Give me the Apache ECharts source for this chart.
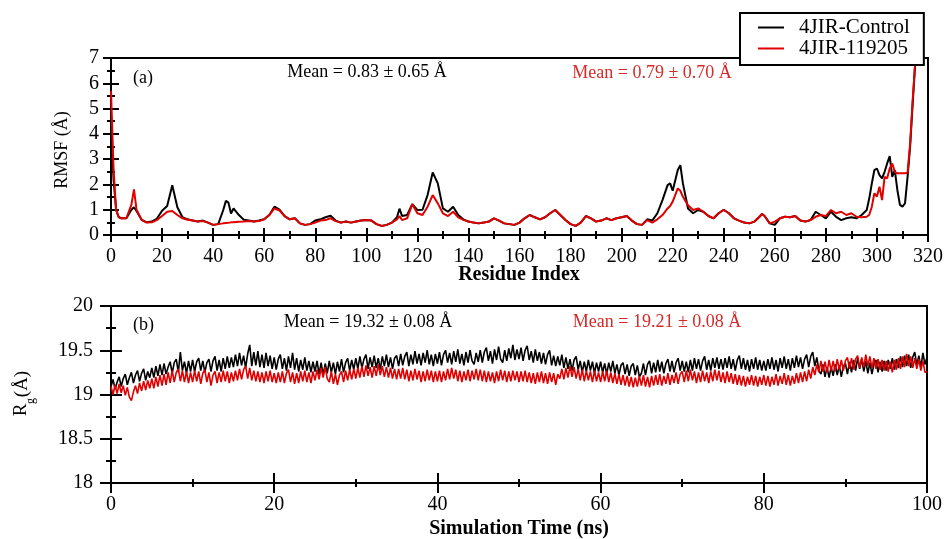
<!DOCTYPE html>
<html>
<head>
<meta charset="utf-8">
<script src="https://cdn.jsdelivr.net/npm/echarts@6/dist/echarts.min.js"></script>
<style>
  html, body { margin: 0; padding: 0; background: #fff; }
  #chart { width: 948px; height: 539px; }
</style>
</head>
<body>
<div id="chart"></div>
<script>
// (a) RMSF per residue
const residues = [0, 1, 2, 3, 4, 6, 8, 9, 10, 12, 14, 16, 18, 20, 22, 24, 26, 28, 30, 32, 34, 36, 38, 40, 42, 44, 45, 46, 47, 48,
  50, 52, 54, 56, 58, 60, 62, 64, 66, 68, 70, 72, 74, 76, 78, 80, 82, 84, 86, 88, 90, 92, 94, 96, 98,
  100, 102, 104, 106, 108, 110, 112, 113, 114, 116, 118, 120, 122, 124, 126, 128, 130, 132, 134, 136, 138,
  140, 142, 144, 146, 148, 150, 152, 154, 156, 158, 160, 162, 164, 166, 168, 170, 172, 174, 176, 178,
  180, 182, 184, 186, 188, 190, 192, 194, 196, 198, 200, 202, 204, 206, 208, 210, 212, 214, 216, 218, 219,
  220, 222, 223, 224, 226, 228, 230, 232, 234, 236, 238, 240, 242, 244, 246, 248, 250, 252, 254, 255, 256, 258,
  260, 262, 264, 266, 268, 270, 272, 274, 276, 278, 280, 282, 284, 286, 288, 290, 292, 294, 296, 297, 298, 299,
  300, 301, 302, 303, 304, 305, 306, 307, 308, 309, 310, 311, 312, 313, 314, 315]

const rmsfControl = [4.5, 2.2, 1.0, 0.72, 0.66, 0.66, 1.0, 1.1, 0.95, 0.6, 0.5, 0.53, 0.65, 0.96, 1.15, 1.97, 1.1, 0.7, 0.62, 0.57, 0.53, 0.57, 0.49, 0.4, 0.43, 1.0, 1.35, 1.28, 0.85, 1.05,
  0.8, 0.6, 0.57, 0.53, 0.57, 0.62, 0.79, 1.12, 1.0, 0.75, 0.62, 0.66, 0.46, 0.4, 0.43, 0.57, 0.62, 0.7, 0.76, 0.57, 0.49, 0.53, 0.49, 0.53, 0.57,
  0.59, 0.57, 0.43, 0.36, 0.4, 0.49, 0.7, 1.04, 0.75, 0.79, 1.22, 0.99, 1.0, 1.58, 2.47, 2.04, 1.05, 0.92, 1.12, 0.79, 0.62,
  0.53, 0.49, 0.46, 0.49, 0.53, 0.66, 0.57, 0.46, 0.43, 0.4, 0.49, 0.66, 0.79, 0.7, 0.62, 0.7, 0.86, 0.99, 0.79, 0.59,
  0.43, 0.36, 0.49, 0.75, 0.66, 0.53, 0.57, 0.66, 0.59, 0.66, 0.7, 0.75, 0.57, 0.43, 0.4, 0.62, 0.57, 0.86, 1.38, 1.97, 2.04,
  1.75, 2.57, 2.76, 2.04, 1.05, 0.86, 0.99, 0.92, 0.75, 0.66, 0.86, 1.0, 0.86, 0.66, 0.57, 0.49, 0.46, 0.53, 0.72, 0.83, 0.75, 0.46,
  0.4, 0.66, 0.72, 0.7, 0.75, 0.57, 0.53, 0.59, 0.92, 0.79, 0.66, 0.92, 0.72, 0.59, 0.66, 0.7, 0.66, 0.79, 0.99, 1.45, 2.04, 2.57,
  2.63, 2.37, 2.24, 2.5, 2.83, 3.12, 2.3, 2.57, 1.78, 1.19, 1.12, 1.25, 2.3, 3.5, 5.2, 6.8]

const rmsfLigand = [5.7, 2.6, 1.0, 0.7, 0.66, 0.66, 1.2, 1.8, 1.0, 0.6, 0.49, 0.5, 0.6, 0.75, 0.92, 0.95, 0.79, 0.66, 0.6, 0.57, 0.53, 0.55, 0.49, 0.4, 0.43, 0.46, 0.47, 0.48, 0.5, 0.5,
  0.52, 0.53, 0.55, 0.53, 0.55, 0.62, 0.79, 1.05, 0.97, 0.75, 0.62, 0.66, 0.46, 0.4, 0.43, 0.49, 0.57, 0.59, 0.66, 0.55, 0.49, 0.53, 0.49, 0.53, 0.57,
  0.59, 0.57, 0.43, 0.36, 0.4, 0.49, 0.62, 0.75, 0.59, 0.66, 1.22, 0.86, 0.79, 1.12, 1.58, 1.25, 0.86, 0.75, 0.92, 0.7, 0.6,
  0.53, 0.49, 0.46, 0.49, 0.53, 0.66, 0.57, 0.46, 0.43, 0.4, 0.49, 0.66, 0.79, 0.7, 0.62, 0.7, 0.86, 0.99, 0.79, 0.59,
  0.43, 0.36, 0.49, 0.75, 0.66, 0.53, 0.57, 0.66, 0.59, 0.66, 0.7, 0.75, 0.57, 0.43, 0.4, 0.59, 0.49, 0.62, 0.79, 1.05, 1.15,
  1.32, 1.84, 1.75, 1.51, 1.18, 0.99, 1.05, 0.92, 0.75, 0.66, 0.86, 0.99, 0.86, 0.66, 0.57, 0.49, 0.46, 0.53, 0.72, 0.83, 0.75, 0.46,
  0.53, 0.66, 0.72, 0.7, 0.75, 0.57, 0.53, 0.59, 0.72, 0.79, 0.75, 0.99, 0.86, 0.92, 0.79, 0.86, 0.72, 0.7, 0.72, 0.8, 1.12, 1.65,
  1.52, 1.91, 1.38, 2.3, 2.24, 2.63, 2.83, 2.5, 2.44, 2.44, 2.44, 2.44, 2.46, 3.62, 5.34, 6.85]

// (b) Rg over time, one reading every 0.25 ns from 0 to 100 ns (rows of 5 ns)
const rgStep = 0.25
const rgControl = [
  19.09, 19.17, 19.06, 19.14, 19.20, 19.09, 19.18, 19.23, 19.11, 19.19, 19.25, 19.13, 19.22, 19.27, 19.15, 19.24, 19.29, 19.16, 19.26, 19.19,
  19.30, 19.19, 19.32, 19.21, 19.34, 19.22, 19.35, 19.23, 19.31, 19.37, 19.24, 19.36, 19.40, 19.25, 19.48, 19.27, 19.37, 19.24, 19.38, 19.26,
  19.39, 19.26, 19.37, 19.41, 19.27, 19.38, 19.25, 19.36, 19.40, 19.26, 19.38, 19.43, 19.27, 19.39, 19.26, 19.41, 19.29, 19.43, 19.30, 19.42,
  19.31, 19.45, 19.32, 19.47, 19.33, 19.44, 19.30, 19.46, 19.56, 19.32, 19.48, 19.33, 19.49, 19.31, 19.45, 19.30, 19.47, 19.32, 19.44, 19.29,
  19.42, 19.28, 19.40, 19.45, 19.29, 19.41, 19.27, 19.43, 19.30, 19.47, 19.28, 19.41, 19.26, 19.39, 19.28, 19.42, 19.27, 19.38, 19.25, 19.37,
  19.26, 19.38, 19.23, 19.36, 19.22, 19.35, 19.24, 19.38, 19.25, 19.36, 19.23, 19.37, 19.26, 19.40, 19.25, 19.36, 19.41, 19.27, 19.39, 19.28,
  19.41, 19.29, 19.43, 19.30, 19.40, 19.45, 19.29, 19.42, 19.31, 19.44, 19.30, 19.41, 19.28, 19.43, 19.32, 19.45, 19.31, 19.42, 19.29, 19.41,
  19.44, 19.32, 19.46, 19.33, 19.43, 19.48, 19.32, 19.45, 19.34, 19.49, 19.35, 19.46, 19.33, 19.47, 19.36, 19.50, 19.34, 19.45, 19.32, 19.46,
  19.35, 19.48, 19.33, 19.45, 19.50, 19.36, 19.47, 19.34, 19.49, 19.37, 19.51, 19.35, 19.46, 19.33, 19.48, 19.36, 19.50, 19.38, 19.34, 19.47,
  19.37, 19.50, 19.36, 19.48, 19.53, 19.38, 19.49, 19.35, 19.51, 19.39, 19.54, 19.40, 19.36, 19.50, 19.38, 19.52, 19.41, 19.56, 19.39, 19.51,
  19.40, 19.53, 19.38, 19.50, 19.55, 19.39, 19.49, 19.36, 19.51, 19.38, 19.48, 19.35, 19.47, 19.34, 19.45, 19.50, 19.33, 19.44, 19.32, 19.43,
  19.33, 19.45, 19.30, 19.42, 19.29, 19.40, 19.27, 19.39, 19.43, 19.28, 19.38, 19.25, 19.37, 19.26, 19.39, 19.27, 19.37, 19.24, 19.36, 19.26,
  19.37, 19.25, 19.35, 19.23, 19.36, 19.26, 19.38, 19.24, 19.34, 19.22, 19.33, 19.36, 19.23, 19.34, 19.21, 19.32, 19.35, 19.22, 19.33, 19.20,
  19.24, 19.35, 19.22, 19.34, 19.38, 19.24, 19.36, 19.25, 19.39, 19.26, 19.37, 19.24, 19.35, 19.40, 19.26, 19.38, 19.25, 19.36, 19.41, 19.27,
  19.38, 19.26, 19.37, 19.25, 19.39, 19.27, 19.41, 19.29, 19.40, 19.27, 19.38, 19.43, 19.28, 19.39, 19.27, 19.41, 19.30, 19.42, 19.29, 19.40,
  19.28, 19.41, 19.30, 19.43, 19.29, 19.40, 19.27, 19.39, 19.44, 19.29, 19.41, 19.28, 19.39, 19.26, 19.40, 19.29, 19.42, 19.28, 19.39, 19.27,
  19.38, 19.27, 19.40, 19.29, 19.42, 19.28, 19.39, 19.26, 19.41, 19.30, 19.43, 19.29, 19.40, 19.27, 19.41, 19.30, 19.44, 19.31, 19.42, 19.29,
  19.40, 19.45, 19.31, 19.43, 19.48, 19.32, 19.42, 19.27, 19.23, 19.34, 19.20, 19.31, 19.19, 19.31, 19.21, 19.34, 19.22, 19.33, 19.20, 19.32,
  19.35, 19.23, 19.37, 19.25, 19.39, 19.27, 19.41, 19.29, 19.40, 19.26, 19.38, 19.24, 19.36, 19.23, 19.34, 19.39, 19.25, 19.37, 19.26, 19.38,
  19.27, 19.39, 19.29, 19.41, 19.28, 19.40, 19.30, 19.43, 19.31, 19.44, 19.32, 19.45, 19.30, 19.42, 19.48, 19.33, 19.44, 19.31, 19.47, 19.34,
  19.42]

const rgLigand = [
  19.09, 19.00, 19.11, 19.01, 19.12, 19.02, 19.10, 18.99, 19.08, 18.97, 18.93, 19.03, 19.10, 19.01, 19.13, 19.04, 19.15, 19.05, 19.16, 19.07,
  19.18, 19.07, 19.20, 19.09, 19.22, 19.10, 19.23, 19.11, 19.25, 19.13, 19.27, 19.14, 19.25, 19.29, 19.15, 19.27, 19.14, 19.26, 19.13, 19.25,
  19.14, 19.27, 19.15, 19.26, 19.12, 19.24, 19.28, 19.14, 19.25, 19.10, 19.22, 19.26, 19.13, 19.25, 19.14, 19.27, 19.15, 19.26, 19.13, 19.25,
  19.15, 19.27, 19.16, 19.29, 19.17, 19.28, 19.32, 19.18, 19.30, 19.16, 19.27, 19.15, 19.26, 19.14, 19.25, 19.13, 19.26, 19.15, 19.27, 19.14,
  19.24, 19.13, 19.25, 19.14, 19.26, 19.13, 19.24, 19.28, 19.14, 19.25, 19.12, 19.24, 19.13, 19.26, 19.15, 19.27, 19.14, 19.25, 19.13, 19.26,
  19.16, 19.28, 19.17, 19.30, 19.19, 19.31, 19.18, 19.14, 19.26, 19.12, 19.23, 19.11, 19.22, 19.26, 19.14, 19.27, 19.16, 19.28, 19.17, 19.29,
  19.18, 19.30, 19.19, 19.32, 19.20, 19.33, 19.21, 19.31, 19.19, 19.32, 19.21, 19.34, 19.22, 19.32, 19.20, 19.31, 19.19, 19.30, 19.18, 19.29,
  19.17, 19.29, 19.18, 19.30, 19.17, 19.28, 19.15, 19.27, 19.16, 19.29, 19.17, 19.27, 19.14, 19.26, 19.15, 19.28, 19.16, 19.27, 19.14, 19.26,
  19.15, 19.27, 19.14, 19.26, 19.16, 19.29, 19.17, 19.30, 19.18, 19.28, 19.15, 19.27, 19.14, 19.26, 19.16, 19.28, 19.15, 19.27, 19.17, 19.29,
  19.16, 19.28, 19.15, 19.27, 19.14, 19.26, 19.15, 19.25, 19.13, 19.26, 19.15, 19.28, 19.16, 19.27, 19.14, 19.26, 19.15, 19.27, 19.16, 19.26,
  19.14, 19.26, 19.15, 19.27, 19.14, 19.25, 19.13, 19.24, 19.12, 19.25, 19.14, 19.26, 19.13, 19.24, 19.12, 19.25, 19.14, 19.24, 19.11, 19.23,
  19.18, 19.29, 19.17, 19.30, 19.19, 19.32, 19.20, 19.31, 19.18, 19.29, 19.16, 19.28, 19.15, 19.27, 19.16, 19.26, 19.14, 19.27, 19.15, 19.25,
  19.14, 19.26, 19.15, 19.27, 19.14, 19.25, 19.13, 19.24, 19.12, 19.23, 19.11, 19.22, 19.10, 19.21, 19.09, 19.20, 19.08, 19.19, 19.09, 19.21,
  19.10, 19.22, 19.09, 19.20, 19.08, 19.21, 19.10, 19.22, 19.11, 19.23, 19.10, 19.21, 19.12, 19.24, 19.11, 19.22, 19.13, 19.25, 19.12, 19.23,
  19.26, 19.14, 19.27, 19.15, 19.28, 19.16, 19.26, 19.13, 19.25, 19.14, 19.27, 19.15, 19.25, 19.13, 19.26, 19.15, 19.28, 19.16, 19.27, 19.14,
  19.25, 19.13, 19.26, 19.14, 19.24, 19.12, 19.23, 19.11, 19.22, 19.10, 19.21, 19.09, 19.20, 19.11, 19.22, 19.10, 19.21, 19.09, 19.20, 19.11,
  19.22, 19.10, 19.21, 19.09, 19.20, 19.11, 19.23, 19.10, 19.21, 19.12, 19.24, 19.11, 19.22, 19.10, 19.21, 19.12, 19.24, 19.13, 19.25, 19.14,
  19.26, 19.15, 19.28, 19.18, 19.31, 19.22, 19.34, 19.25, 19.38, 19.26, 19.37, 19.25, 19.39, 19.27, 19.38, 19.26, 19.40, 19.28, 19.39, 19.27,
  19.38, 19.42, 19.29, 19.41, 19.28, 19.40, 19.44, 19.30, 19.42, 19.31, 19.45, 19.32, 19.43, 19.30, 19.41, 19.29, 19.40, 19.28, 19.39, 19.27,
  19.38, 19.26, 19.37, 19.25, 19.39, 19.28, 19.41, 19.29, 19.43, 19.31, 19.46, 19.32, 19.43, 19.30, 19.41, 19.29, 19.40, 19.27, 19.38, 19.25,
  19.26]

const seriesNames = ['4JIR-Control', '4JIR-119205']
const xTicksA = { min: 0, max: 320, interval: 20 }
const yTicksA = { min: 0, max: 7, interval: 1 }
const xTicksB = { min: 0, max: 100, interval: 20 }
const yTicksB = { min: 18, max: 20, interval: 0.5 }

const FONT = 'Liberation Serif'
const RED = '#e00000'
const TXT_RED = '#d42a2a'

let chart = echarts.init(document.getElementById('chart'))

// one axis carries line + outer ticks + labels, a twin carries the inner ticks
function axisPair (dim, grid, ticks, tickLen, minorLen, labelMargin) {
  let base = {
    type: 'value',
    gridIndex: grid,
    min: ticks.min,
    max: ticks.max,
    interval: ticks.interval,
    position: dim === 'x' ? 'bottom' : 'left',
    splitLine: { show: false },
    minorSplitLine: { show: false }
  }
  let outer = Object.assign({}, base, {
    axisLine: { show: true, onZero: false, lineStyle: { color: '#000', width: 2 } },
    axisTick: { show: true, inside: false, length: tickLen, lineStyle: { color: '#000', width: 2 } },
    minorTick: { show: true, splitNumber: 2, length: minorLen, lineStyle: { color: '#000', width: 2 } },
    axisLabel: { color: '#000', fontFamily: FONT, fontSize: 20, margin: labelMargin }
  })
  let inner = Object.assign({}, base, {
    axisLine: { show: false, onZero: false },
    axisTick: { show: true, inside: true, length: tickLen, lineStyle: { color: '#000', width: 2 } },
    minorTick: { show: true, splitNumber: 2, length: minorLen, lineStyle: { color: '#000', width: 2 } },
    axisLabel: { show: false }
  })
  return [outer, inner]
}

let xAxes = axisPair('x', 0, xTicksA, 7, 4, 12).concat(axisPair('x', 1, xTicksB, 10, 4, 12))
let yAxes = axisPair('y', 0, yTicksA, 8, 4, 12).concat(axisPair('y', 1, yTicksB, 11, 5, 18))

let pairs = (xs, ys) => ys.map((v, i) => [xs[i], v])
let rgTime = rgControl.map((v, i) => i * rgStep)

let option = {
  animation: false,
  backgroundColor: '#fff',
  grid: [
    { left: 111, right: 20, top: 58, height: 177, show: true, borderColor: '#000', borderWidth: 2, backgroundColor: 'transparent' },
    { left: 111, right: 21, top: 306, height: 177, show: true, borderColor: '#000', borderWidth: 2, backgroundColor: 'transparent' }
  ],
  legend: {
    data: seriesNames,
    orient: 'vertical',
    left: 740,
    top: 13,
    icon: 'rect',
    itemWidth: 26,
    itemHeight: 2,
    itemGap: 0,
    padding: [4, 14, 6, 18],
    borderColor: '#000',
    borderWidth: 2,
    backgroundColor: '#fff',
    textStyle: { color: '#000', fontFamily: FONT, fontSize: 21, lineHeight: 17, padding: [0, 0, 0, 10] }
  },
  xAxis: xAxes,
  yAxis: yAxes,
  series: [
    {
      name: seriesNames[0], type: 'line', xAxisIndex: 0, yAxisIndex: 0,
      data: pairs(residues, rmsfControl), showSymbol: false, symbol: 'none',
      lineStyle: { color: '#000', width: 2 }, itemStyle: { color: '#000' }
    },
    {
      name: seriesNames[1], type: 'line', xAxisIndex: 0, yAxisIndex: 0,
      data: pairs(residues, rmsfLigand), showSymbol: false, symbol: 'none',
      lineStyle: { color: RED, width: 2 }, itemStyle: { color: RED }
    },
    {
      name: seriesNames[0], type: 'line', xAxisIndex: 2, yAxisIndex: 2,
      data: pairs(rgTime, rgControl), showSymbol: false, symbol: 'none',
      lineStyle: { color: '#000', width: 1.6 }, itemStyle: { color: '#000' }
    },
    {
      name: seriesNames[1], type: 'line', xAxisIndex: 2, yAxisIndex: 2,
      data: pairs(rgTime, rgLigand), showSymbol: false, symbol: 'none',
      lineStyle: { color: RED, width: 1.6 }, itemStyle: { color: RED }
    }
  ],
  graphic: [
    // axis titles
    { type: 'text', style: { text: 'Residue Index', x: 519, y: 275, fontFamily: FONT, fontSize: 20, fontWeight: 'bold', fill: '#000', align: 'center', verticalAlign: 'middle' } },
    { type: 'text', style: { text: 'Simulation Time (ns)', x: 519, y: 529, fontFamily: FONT, fontSize: 20, fontWeight: 'bold', fill: '#000', align: 'center', verticalAlign: 'middle' } },
    { type: 'text', x: 62, y: 150, rotation: Math.PI / 2, style: { text: 'RMSF (Å)', fontFamily: FONT, fontSize: 18, fill: '#000', align: 'center', verticalAlign: 'middle' } },
    { type: 'text', x: 21, y: 410, rotation: Math.PI / 2, style: { text: 'R', fontFamily: FONT, fontSize: 19, fill: '#000', align: 'center', verticalAlign: 'middle' } },
    { type: 'text', x: 31, y: 401, rotation: Math.PI / 2, style: { text: 'g', fontFamily: FONT, fontSize: 12, fill: '#000', align: 'center', verticalAlign: 'middle' } },
    { type: 'text', x: 22, y: 384, rotation: Math.PI / 2, style: { text: '(Å)', fontFamily: FONT, fontSize: 19, fill: '#000', align: 'center', verticalAlign: 'middle' } },
    // panel labels and means
    { type: 'text', style: { text: '(a)', x: 133, y: 78, fontFamily: FONT, fontSize: 18, fill: '#000', verticalAlign: 'middle' } },
    { type: 'text', style: { text: 'Mean = 0.83 ± 0.65 Å', x: 367, y: 72, fontFamily: FONT, fontSize: 18, fill: '#000', align: 'center', verticalAlign: 'middle' } },
    { type: 'text', style: { text: 'Mean = 0.79 ± 0.70 Å', x: 652, y: 73, fontFamily: FONT, fontSize: 18, fill: TXT_RED, align: 'center', verticalAlign: 'middle' } },
    { type: 'text', style: { text: '(b)', x: 133, y: 325, fontFamily: FONT, fontSize: 18, fill: '#000', verticalAlign: 'middle' } },
    { type: 'text', style: { text: 'Mean = 19.32 ± 0.08 Å', x: 368, y: 322, fontFamily: FONT, fontSize: 18, fill: '#000', align: 'center', verticalAlign: 'middle' } },
    { type: 'text', style: { text: 'Mean = 19.21 ± 0.08 Å', x: 657, y: 322, fontFamily: FONT, fontSize: 18, fill: TXT_RED, align: 'center', verticalAlign: 'middle' } }
  ]
}

chart.setOption(option)
window.addEventListener('resize', function () {
  chart.resize()
})
</script>
</body>
</html>
